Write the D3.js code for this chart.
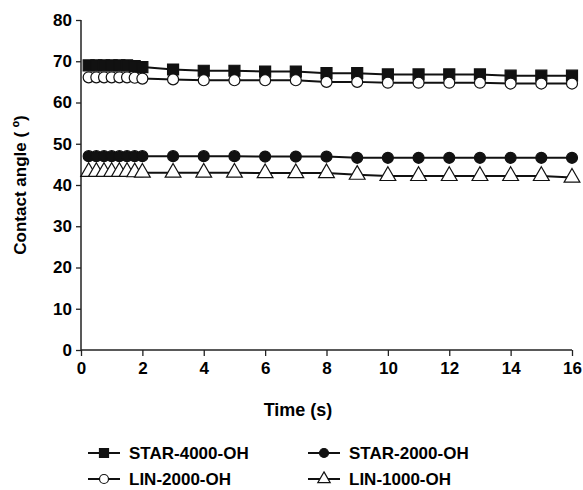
<!DOCTYPE html>
<html>
<head>
<meta charset="utf-8">
<script src="https://cdn.jsdelivr.net/npm/d3@7"></script>
<style>
  body { margin: 0; background: #fff; }
  text { font-family: "Liberation Sans", Arial, sans-serif; font-weight: bold; fill: #000; }
</style>
</head>
<body>
<svg id="chart" width="583" height="490"></svg>
<script>
const times = [0.25, 0.5, 0.75, 1, 1.25, 1.5, 1.75, 2, 3, 4, 5, 6, 7, 8, 9, 10, 11, 12, 13, 14, 15, 16];
const star4000 = [69, 69, 69, 69, 69, 69, 68.8, 68.6, 68.0, 67.7, 67.7, 67.5, 67.5, 67.1, 67.1, 66.8, 66.8, 66.8, 66.8, 66.5, 66.5, 66.5];
const star2000 = [47, 47, 47, 47, 47, 47, 47, 47, 47, 47, 47, 46.9, 46.9, 46.9, 46.6, 46.6, 46.6, 46.6, 46.6, 46.6, 46.6, 46.6];
const lin2000 = [66.1, 66.1, 66.1, 66.1, 66.1, 66.1, 66.0, 65.8, 65.6, 65.4, 65.4, 65.4, 65.4, 65.0, 65.0, 64.8, 64.8, 64.8, 64.8, 64.6, 64.6, 64.6];
const lin1000 = [43.2, 43.2, 43.2, 43.2, 43.2, 43.2, 43.1, 43.0, 43.0, 43.0, 43.0, 42.9, 42.9, 42.9, 42.5, 42.2, 42.2, 42.2, 42.2, 42.2, 42.2, 41.8];
const xTicks = [0, 2, 4, 6, 8, 10, 12, 14, 16];
const yTicks = [0, 10, 20, 30, 40, 50, 60, 70, 80];

const series = [
  { name: "STAR-4000-OH", values: star4000, shape: "square", fill: "#111" },
  { name: "STAR-2000-OH", values: star2000, shape: "circle", fill: "#111" },
  { name: "LIN-2000-OH", values: lin2000, shape: "circle", fill: "#fff" },
  { name: "LIN-1000-OH", values: lin1000, shape: "triangle", fill: "#fff" }
];
// draw order: open markers above filled ones
const drawOrder = [0, 2, 1, 3];

const svg = d3.select("#chart");
const x = d3.scaleLinear().domain([0, 16]).range([81, 572]);
const y = d3.scaleLinear().domain([0, 80]).range([350, 20]);

function marker(g, shape, fill, size) {
  let sym;
  if (shape === "square") sym = d3.symbol(d3.symbolSquare, size * size);
  else if (shape === "circle") sym = d3.symbol(d3.symbolCircle, Math.PI * (size / 2) * (size / 2));
  else sym = d3.symbol(d3.symbolTriangle, size * size * 0.55);
  g.append("path")
    .attr("d", sym())
    .attr("fill", fill)
    .attr("stroke", "#111")
    .attr("stroke-width", 1.2);
}

// axes
const xAxis = svg.append("g")
  .attr("transform", "translate(0,350)")
  .call(d3.axisBottom(x).tickValues(xTicks).tickSize(6).tickPadding(6));
const yAxis = svg.append("g")
  .attr("transform", "translate(81,0)")
  .call(d3.axisLeft(y).tickValues(yTicks).tickSize(5).tickPadding(4));
[xAxis, yAxis].forEach(a => {
  a.select(".domain").attr("stroke", "#222").attr("stroke-width", 1.5);
  a.selectAll(".tick line").attr("stroke", "#222").attr("stroke-width", 1.3);
  a.selectAll("text").style("font-size", "17px").style("font-weight", "bold")
    .style("font-family", "'Liberation Sans', Arial, sans-serif").attr("fill", "#000");
});
xAxis.select(".domain").attr("d", "M81,0H572");
yAxis.select(".domain").attr("d", "M0,20V350");

svg.append("text")
  .attr("x", 298).attr("y", 416)
  .attr("text-anchor", "middle")
  .style("font-size", "18px")
  .text("Time (s)");
svg.append("text")
  .attr("transform", "translate(26,185) rotate(-90)")
  .attr("text-anchor", "middle")
  .style("font-size", "17px")
  .text("Contact angle ( º)");

const line = d3.line().x(d => x(d[0])).y(d => y(d[1]));

drawOrder.forEach(i => {
  const s = series[i];
  const pts = times.map((t, k) => [t, s.values[k]]);
  svg.append("path")
    .datum(pts)
    .attr("d", line)
    .attr("fill", "none")
    .attr("stroke", "#111")
    .attr("stroke-width", 2);
  const size = s.shape === "triangle" ? 14 : 11;
  pts.forEach(p => {
    const g = svg.append("g").attr("transform", `translate(${x(p[0])},${y(p[1])})`);
    marker(g, s.shape, s.fill, size);
  });
});

// legend
const legendPos = [[88, 453], [308, 453], [88, 479], [308, 479]];
series.forEach((s, i) => {
  const [lx, ly] = legendPos[i];
  const g = svg.append("g").attr("transform", `translate(${lx},${ly})`);
  g.append("line").attr("x1", 0).attr("x2", 32).attr("y1", 0).attr("y2", 0)
    .attr("stroke", "#111").attr("stroke-width", 2);
  const m = g.append("g").attr("transform", "translate(16,0)");
  marker(m, s.shape, s.fill, s.shape === "triangle" ? 11 : 9);
  g.append("text").attr("x", 41).attr("y", 6)
    .style("font-size", "17px")
    .text(s.name);
});
</script>
</body>
</html>
